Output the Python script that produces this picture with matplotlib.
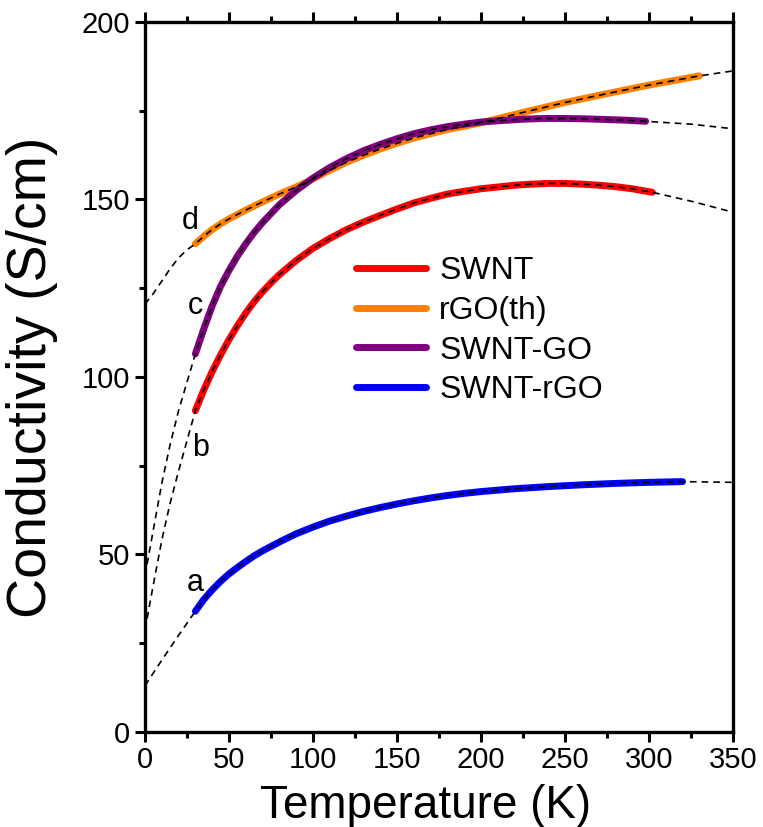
import matplotlib
matplotlib.use("Agg")
from matplotlib import pyplot as plt
from matplotlib.ticker import MultipleLocator

plt.rcParams['font.family'] = ['Liberation Sans', 'DejaVu Sans']

# measured data (T in K, conductivity in S/cm)
t_swnt = [30, 35, 40, 45, 50, 55, 60, 65, 70, 75, 80, 90, 100, 110, 120, 130, 140, 150, 160, 170,
          180, 190, 200, 210, 220, 230, 240, 250, 260, 270, 280, 290, 302]
s_swnt = [90.5, 96.3, 101.5, 106.2, 110.5, 114.4, 118, 121.2, 124, 126.5, 128.8, 132.8, 136.2, 139,
          141.5, 143.6, 145.5, 147.3, 149, 150.3, 151.5, 152.3, 153, 153.5, 154, 154.3, 154.5, 154.5,
          154.3, 154, 153.6, 153, 152]

t_rgo = [30, 35, 40, 45, 50, 60, 70, 80, 90, 100, 110, 120, 130, 140, 150, 160, 170, 180, 190, 200,
         225, 250, 275, 300, 330]
s_rgo = [137.5, 139.6, 141.5, 143.1, 144.5, 147, 149.3, 151.5, 153.5, 155.8, 158.2, 160.5, 162.4,
         164.2, 165.8, 167.3, 168.5, 169.7, 170.6, 171.6, 174.5, 177.3, 179.8, 182.2, 184.8]

t_sgo = [30, 35, 40, 45, 50, 55, 60, 65, 70, 80, 90, 100, 110, 120, 130, 140, 150, 160, 170, 180,
         190, 200, 212, 225, 237, 250, 262, 275, 287, 298]
s_sgo = [106.5, 113.5, 120, 125.5, 130, 134, 137.5, 140.7, 143.5, 148.5, 152.5, 156, 159, 161.5,
         163.7, 165.5, 167.1, 168.5, 169.6, 170.5, 171.2, 171.8, 172.2, 172.6, 172.8, 172.8, 172.7,
         172.5, 172.3, 172]

t_srgo = [30, 35, 40, 45, 50, 55, 60, 65, 70, 80, 90, 100, 110, 120, 130, 140, 150, 160, 170, 180,
          190, 200, 210, 220, 240, 260, 280, 300, 320]
s_srgo = [34, 37.3, 40, 42.4, 44.5, 46.3, 48, 49.6, 51, 53.5, 55.8, 57.7, 59.4, 60.8, 62.1, 63.2,
          64.2, 65.1, 65.9, 66.6, 67.2, 67.7, 68.1, 68.5, 69.1, 69.6, 70, 70.3, 70.5]

# fit curve extensions
fit_swnt_lo_t = [0, 5, 10, 15, 20, 25]
fit_swnt_lo_s = [28.7, 41.5, 54, 64.5, 73.5, 82]
fit_swnt_hi_t = [325, 350]
fit_swnt_hi_s = [149.5, 146.4]

fit_rgo_lo_t = [0, 5, 10, 15, 20, 25]
fit_rgo_lo_s = [120.5, 123.5, 127, 130.5, 133.5, 135.8]
fit_rgo_hi_t = [350]
fit_rgo_hi_s = [186.2]

fit_sgo_lo_t = [0, 5, 10, 15, 20, 25]
fit_sgo_lo_s = [44, 57, 70, 81, 90.5, 98.5]
fit_sgo_hi_t = [325, 350]
fit_sgo_hi_s = [171.2, 169.9]

fit_srgo_lo_t = [0, 10, 20]
fit_srgo_lo_s = [13, 20.2, 27.2]
fit_srgo_hi_t = [350]
fit_srgo_hi_s = [70.3]

series = [
    ("SWNT", "#ff0000", t_swnt, s_swnt, fit_swnt_lo_t, fit_swnt_lo_s, fit_swnt_hi_t, fit_swnt_hi_s),
    ("rGO(th)", "#ff8000", t_rgo, s_rgo, fit_rgo_lo_t, fit_rgo_lo_s, fit_rgo_hi_t, fit_rgo_hi_s),
    ("SWNT-GO", "#800080", t_sgo, s_sgo, fit_sgo_lo_t, fit_sgo_lo_s, fit_sgo_hi_t, fit_sgo_hi_s),
    ("SWNT-rGO", "#0000ff", t_srgo, s_srgo, fit_srgo_lo_t, fit_srgo_lo_s, fit_srgo_hi_t, fit_srgo_hi_s),
]

letters = ["a", "b", "c", "d"]
letter_x = [30, 33, 30, 27]
letter_y = [42, 80, 120, 144]

fig = plt.figure(figsize=(7.63, 8.27), dpi=100)
ax = fig.add_axes([0.190, 0.115, 0.7707, 0.8585])

for name, col, t, s, tl, sl, th, sh in series:
    ax.plot(t, s, color=col, lw=5, solid_capstyle='round', solid_joinstyle='round',
            label=name, zorder=2)
for name, col, t, s, tl, sl, th, sh in series:
    ax.plot(tl + t + th, sl + s + sh, color='black', lw=1.2, dashes=(4, 3), zorder=3)

for lab, x, y in zip(letters, letter_x, letter_y):
    ax.text(x, y, lab, fontsize=22, ha='center', va='center')

ax.set_xlim(0, 350)
ax.set_ylim(0, 200)
ax.xaxis.set_major_locator(MultipleLocator(50))
ax.xaxis.set_minor_locator(MultipleLocator(25))
ax.yaxis.set_major_locator(MultipleLocator(50))
ax.yaxis.set_minor_locator(MultipleLocator(25))
ax.tick_params(which='both', direction='out', width=2.2, top=True, right=False,
               labelsize=21)
ax.tick_params(which='major', length=7)
ax.tick_params(which='minor', length=4)
for sp in ax.spines.values():
    sp.set_linewidth(2.4)

ax.set_xlabel("Temperature (K)", fontsize=33)
ax.xaxis.set_label_coords(0.478, -0.074)
ax.set_ylabel("Conductivity (S/cm)", fontsize=40)
ax.yaxis.set_label_coords(-0.148, 0.5)

ax.legend(loc='center left', bbox_to_anchor=(0.31, 0.565), frameon=False,
          fontsize=23, handlelength=2.2, handletextpad=0.4, labelspacing=0.3,
          borderpad=0.4)

fig.savefig("out.png", dpi=100)
